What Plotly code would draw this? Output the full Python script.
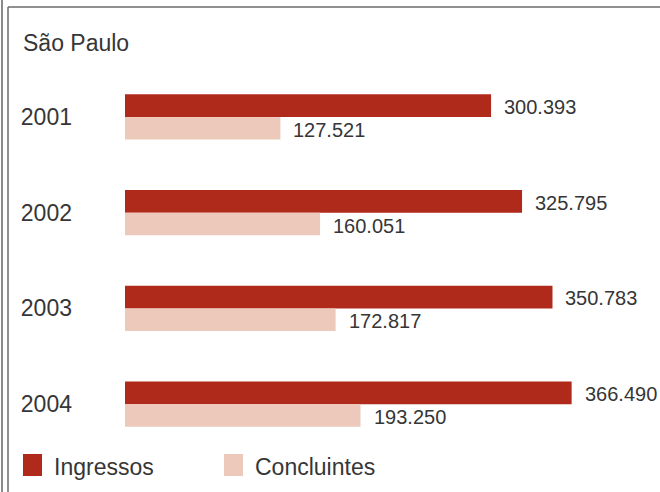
import plotly.graph_objects as go

# São Paulo: new entrants vs. graduates per year
years = ["2001", "2002", "2003", "2004"]
ingressos = [300393, 325795, 350783, 366490]
concluintes = [127521, 160051, 172817, 193250]
series_names = ["Ingressos", "Concluintes"]
title_text = "São Paulo"

RED = "#B02A1C"
PINK = "#ECC9BA"
TEXT = "#363636"
FONT = "Liberation Sans, Arial, sans-serif"

W, H = 660, 492
ML, MR, MT, MB = 125, 0, 69, 40
PW = W - ML - MR
PH = H - MT - MB
XMAX = 439000


def px_x(p):
    """Pixel x -> paper x."""
    return (p - ML) / PW


def px_y(p):
    """Pixel y (from top) -> paper y."""
    return 1 - (p - MT) / PH


def fmt(v):
    return f"{v:,}".replace(",", ".")


fig = go.Figure()
fig.add_trace(go.Bar(y=years, x=ingressos, name=series_names[0], orientation="h",
                     marker=dict(color=RED, line=dict(width=0)), showlegend=False))
fig.add_trace(go.Bar(y=years, x=concluintes, name=series_names[1], orientation="h",
                     marker=dict(color=PINK, line=dict(width=0)), showlegend=False))

annotations = []
# value labels to the right of each bar (category index used as y position)
for i, (a, b) in enumerate(zip(ingressos, concluintes)):
    annotations.append(dict(x=a, y=i, xref="x", yref="y", text=fmt(a), showarrow=False,
                            xanchor="left", yanchor="middle", xshift=11, yshift=10,
                            font=dict(size=20, color=TEXT, family=FONT)))
    annotations.append(dict(x=b, y=i, xref="x", yref="y", text=fmt(b), showarrow=False,
                            xanchor="left", yanchor="middle", xshift=11, yshift=-13,
                            font=dict(size=20, color=TEXT, family=FONT)))

# title
annotations.append(dict(x=px_x(21), y=px_y(43), xref="paper", yref="paper", text=title_text,
                        showarrow=False, xanchor="left", yanchor="middle",
                        font=dict(size=23, color=TEXT, family=FONT)))

# legend drawn as swatches + labels
shapes = []
legend_items = [(series_names[0], RED, 23), (series_names[1], PINK, 224)]
for name, col, x0 in legend_items:
    shapes.append(dict(type="rect", xref="paper", yref="paper",
                       x0=px_x(x0), x1=px_x(x0 + 19), y0=px_y(476), y1=px_y(454),
                       fillcolor=col, line=dict(width=0)))
    annotations.append(dict(x=px_x(x0 + 29), y=px_y(467), xref="paper", yref="paper", text=name,
                            showarrow=False, xanchor="left", yanchor="middle",
                            font=dict(size=23, color=TEXT, family=FONT)))

# frame lines
frame = "#6b6b6b"
shapes.append(dict(type="line", xref="paper", yref="paper", x0=px_x(2), x1=px_x(2),
                   y0=px_y(0), y1=px_y(H), line=dict(color="#8a8a8a", width=2)))
shapes.append(dict(type="line", xref="paper", yref="paper", x0=px_x(8), x1=px_x(8),
                   y0=px_y(7), y1=px_y(H), line=dict(color=frame, width=1.5)))
shapes.append(dict(type="line", xref="paper", yref="paper", x0=px_x(8), x1=px_x(W),
                   y0=px_y(7), y1=px_y(7), line=dict(color=frame, width=1.5)))

fig.update_layout(
    width=W, height=H,
    margin=dict(l=ML, r=MR, t=MT, b=MB, pad=0),
    paper_bgcolor="white", plot_bgcolor="white",
    barmode="group", bargap=0.53, bargroupgap=0,
    xaxis=dict(range=[0, XMAX], visible=False, fixedrange=True),
    yaxis=dict(type="category", categoryorder="array", categoryarray=years,
               range=[3.5, -0.5], showgrid=False, zeroline=False, showline=False,
               ticks="", ticklabelstandoff=52,
               tickfont=dict(size=23, color=TEXT, family=FONT)),
    annotations=annotations, shapes=shapes,
    showlegend=False,
)

fig.write_html("out.html")
